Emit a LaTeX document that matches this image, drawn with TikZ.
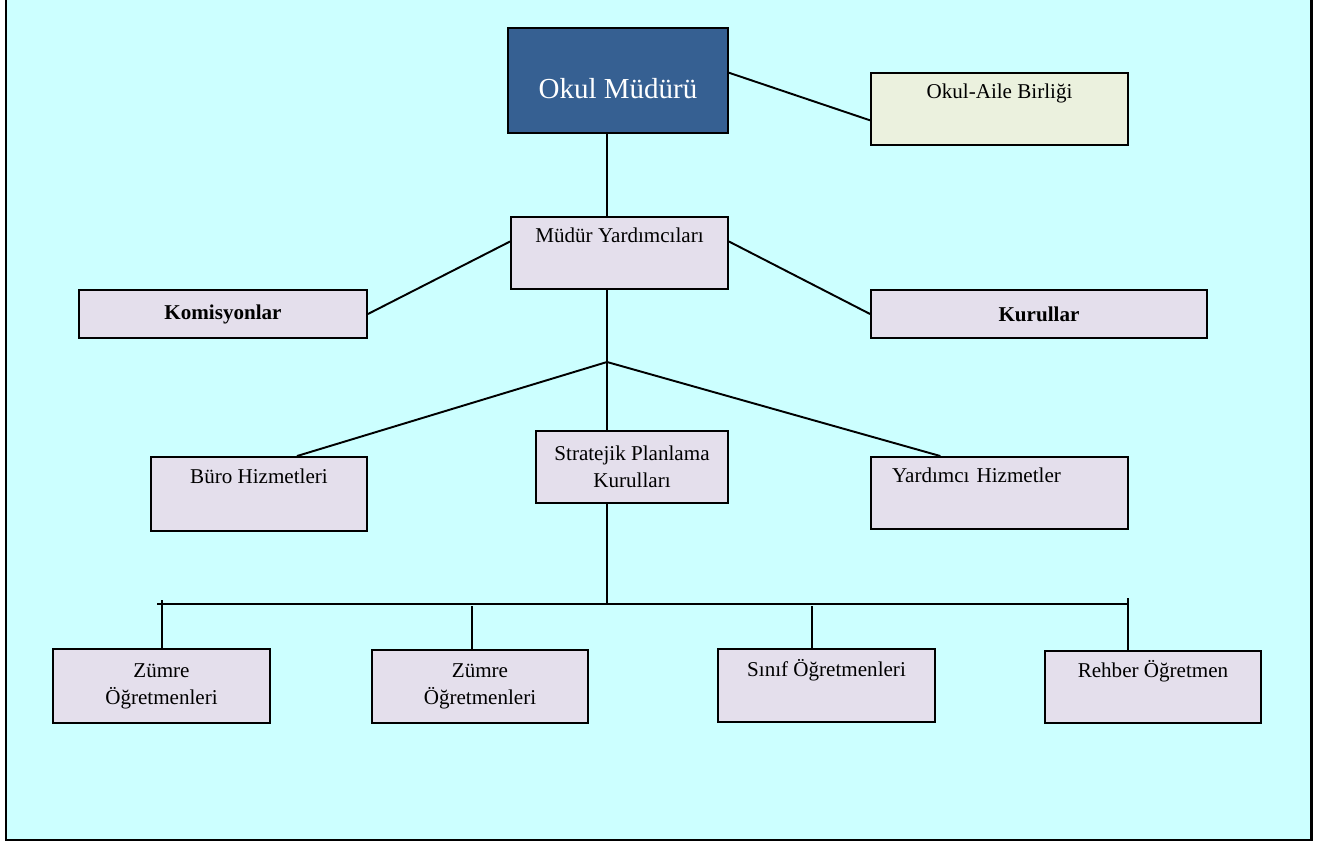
\documentclass[tikz,border=0pt]{standalone}
\usepackage{fontspec}
\setmainfont{Liberation Serif}
\definecolor{fondo}{HTML}{CCFFFF}
\definecolor{lila}{HTML}{E4DFEC}
\definecolor{azul}{HTML}{366092}
\definecolor{crema}{HTML}{EBF1DE}
\tikzset{
  caja/.style={draw,line width=1.1pt,fill=lila,align=center,inner sep=2pt,
    font=\fontsize{12}{15.5}\selectfont},
  enlace/.style={line width=1.1pt}
}
\begin{document}
\begin{tikzpicture}[x=0.02cm,y=-0.02cm]
\useasboundingbox (0,0) rectangle (1330,845);

%Fondo y marco
\fill[fondo] (6,0) rectangle (1311,840);
\draw[line width=1.7pt] (6,0) -- (6,840) -- (1311,840) -- (1311,0);

%Cajas
\node[caja,fill=azul,text=white,minimum width=4.4cm,minimum height=2.1cm,
  font=\fontsize{16.5}{19}\selectfont,text height=21pt,text depth=0pt] (mudur) at (618,80.5) {Okul Müdürü};
\node[caja,fill=crema,minimum width=5.14cm,minimum height=1.44cm] (aile) at (999.5,109) {Okul-Aile Birliği\\\strut};
\node[caja,minimum width=4.34cm,minimum height=1.44cm] (my) at (619.5,253) {Müdür Yardımcıları\\\strut};
\node[caja,minimum width=5.76cm,minimum height=0.96cm,font=\fontsize{12}{14}\selectfont\bfseries] (kom) at (223,314) {Komisyonlar};
\node[caja,minimum width=6.72cm,minimum height=0.96cm,font=\fontsize{12}{14}\selectfont\bfseries] (kur) at (1039,314) {Kurullar};
\node[caja,minimum width=4.32cm,minimum height=1.48cm] (buro) at (259,494) {Büro Hizmetleri\\\strut};
\node[caja,minimum width=3.84cm,minimum height=1.44cm] (stra) at (632,467) {Stratejik Planlama\\Kurulları};
\node[caja,minimum width=5.14cm,minimum height=1.44cm,align=left,text width=4.3cm] (yard) at (999.5,493) {Yardımcı Hizmetler\\\strut};
\node[caja,minimum width=4.34cm,minimum height=1.48cm] (z1) at (161.5,686) {Zümre\\Öğretmenleri};
\node[caja,minimum width=4.32cm,minimum height=1.46cm] (z2) at (480,686.5) {Zümre\\Öğretmenleri};
\node[caja,minimum width=4.34cm,minimum height=1.46cm] (sinif) at (826.5,685.5) {Sınıf Öğretmenleri\\\strut};
\node[caja,minimum width=4.32cm,minimum height=1.44cm] (rehber) at (1153,687) {Rehber Öğretmen\\\strut};

%Enlaces
\coordinate (nudo) at (607,362);
\coordinate (barraI) at (157,604);
\coordinate (barraD) at (1128,604);
\draw[enlace] (mudur.4) -- (aile.185);
\draw[enlace] (mudur.south -| nudo) -- (my.north -| nudo);
\draw[enlace] (kom.east) -- (my.174);
\draw[enlace] (my.6) -- (kur.west);
\draw[enlace] (my.south -| nudo) -- (stra.north -| nudo);
\draw[enlace] (buro.45) -- (nudo) -- (yard.148);
\draw[enlace] (stra.south -| nudo) -- (nudo |- barraI);
\draw[enlace] (barraI) -- (barraD);
\foreach \n/\x/\y in {z1/162/600,z2/472/606,sinif/812/606,rehber/1128/598}{
    \draw[enlace] (\x,\y) -- (\n.north -| \x,0);
}
\end{tikzpicture}
\end{document}
